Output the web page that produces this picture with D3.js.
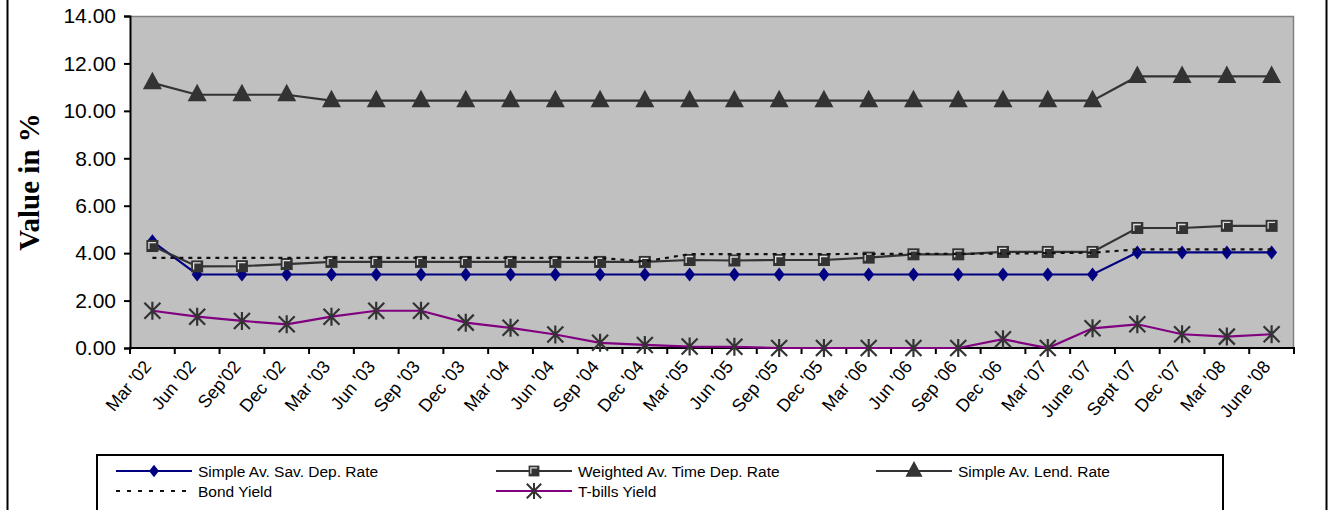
<!DOCTYPE html>
<html>
<head>
<meta charset="utf-8">
<script src="https://cdn.jsdelivr.net/npm/d3@7"></script>
<style>
  html, body { margin: 0; padding: 0; background: #fff; }
  svg { display: block; }
</style>
</head>
<body>
<svg id="chart" width="1328" height="510"></svg>
<script>
const categories = ["Mar '02","Jun '02","Sep'02","Dec '02","Mar '03","Jun '03","Sep '03","Dec '03",
  "Mar '04","Jun '04","Sep '04","Dec '04","Mar '05","Jun '05","Sep '05","Dec '05",
  "Mar '06","Jun '06","Sep '06","Dec '06","Mar '07","June '07","Sept '07","Dec '07","Mar '08","June '08"];

const savDep   = [4.50,3.10,3.10,3.10,3.10,3.10,3.10,3.10,3.10,3.10,3.10,3.10,3.10,3.10,3.10,3.10,3.10,3.10,3.10,3.10,3.10,3.10,4.03,4.03,4.03,4.03];
const timeDep  = [4.30,3.44,3.45,3.54,3.63,3.63,3.63,3.63,3.63,3.63,3.63,3.63,3.71,3.69,3.71,3.71,3.81,3.95,3.95,4.05,4.05,4.05,5.06,5.06,5.15,5.15];
const lendRate = [11.18,10.68,10.68,10.68,10.43,10.43,10.43,10.43,10.43,10.43,10.43,10.43,10.43,10.43,10.43,10.43,10.43,10.43,10.43,10.43,10.43,10.43,11.45,11.45,11.45,11.45];
const bondYield= [3.80,3.80,3.80,3.80,3.80,3.80,3.80,3.80,3.80,3.80,3.80,3.65,3.96,3.96,3.96,3.96,3.97,3.97,3.97,3.98,4.00,4.02,4.16,4.16,4.16,4.16];
const tbills   = [1.57,1.32,1.14,1.00,1.32,1.57,1.57,1.07,0.85,0.57,0.22,0.13,0.06,0.05,0.00,0.00,0.00,0.00,0.00,0.37,0.00,0.83,1.00,0.58,0.48,0.58];

const yTicks = [0,2,4,6,8,10,12,14];
const seriesNames = ["Simple Av. Sav. Dep. Rate","Weighted Av. Time Dep. Rate","Simple Av. Lend. Rate","Bond Yield","T-bills Yield"];

const svg = d3.select("#chart");
const plot = {left:130, right:1294, top:16, bottom:348};

// outer chart border
svg.append("rect").attr("x",7.5).attr("y",-2).attr("width",1319).attr("height",520)
  .attr("fill","#fff").attr("stroke","#000").attr("stroke-width",2);

const x = d3.scaleBand().domain(categories).range([plot.left, plot.right]).padding(0);
const y = d3.scaleLinear().domain([0,14]).range([plot.bottom, plot.top]);
const cx = c => x(c) + x.bandwidth()/2;

// plot area
svg.append("rect").attr("x",plot.left).attr("y",plot.top)
  .attr("width",plot.right-plot.left).attr("height",plot.bottom-plot.top)
  .attr("fill","#C0C0C0");
svg.append("path").attr("d",`M${plot.left},${plot.top+0.5}H${plot.right-0.5}V${plot.bottom}`)
  .attr("fill","none").attr("stroke","#808080").attr("stroke-width",1.5);

// Y axis
const yAxis = d3.axisLeft(y).tickValues(yTicks).tickFormat(d3.format(".2f")).tickSize(6).tickPadding(8);
const gy = svg.append("g").attr("transform",`translate(${plot.left},0)`).call(yAxis);
gy.select(".domain").attr("stroke","#000").attr("stroke-width",2);
gy.selectAll(".tick line").attr("stroke","#000").attr("stroke-width",2);
gy.selectAll(".tick text").attr("font-family","Liberation Sans, Arial, sans-serif")
  .attr("font-size",21).attr("fill","#000");

// X axis: ticks at band boundaries
const gx = svg.append("g").attr("transform",`translate(0,${plot.bottom})`);
gx.append("line").attr("x1",plot.left-1).attr("x2",plot.right+1).attr("stroke","#000").attr("stroke-width",2);
const bounds = categories.map(c => x(c)).concat([plot.right]);
gx.selectAll(".xt").data(bounds).join("line").attr("class","xt")
  .attr("x1",d=>d).attr("x2",d=>d).attr("y1",0).attr("y2",6)
  .attr("stroke","#000").attr("stroke-width",2);
gx.selectAll(".xl").data(categories).join("text").attr("class","xl")
  .attr("transform",d=>`translate(${cx(d)-5},${15}) rotate(-50)`)
  .attr("text-anchor","end").attr("dy","0.35em")
  .attr("font-family","Liberation Sans, Arial, sans-serif").attr("font-size",18)
  .text(d=>d);

// Y title
svg.append("text").attr("transform","translate(39,182) rotate(-90)")
  .attr("text-anchor","middle").attr("font-family","Liberation Serif, Times New Roman, serif")
  .attr("font-weight","bold").attr("font-size",29).text("Value in %");

// markers
function diamond(g, color){
  g.append("path").attr("d","M0,-7L5.5,0L0,7L-5.5,0Z").attr("fill",color);
}
function square(g){
  g.append("rect").attr("x",-6).attr("y",-6).attr("width",12).attr("height",12).attr("fill","#333");
  g.append("path").attr("d","M-3.5,3V-3.5H3.5").attr("fill","none").attr("stroke","#e0e0e0").attr("stroke-width",1.3);
}
function triangle(g){
  g.append("path").attr("d","M0,-11L9.5,6.5L-9.5,6.5Z").attr("fill","#333");
}
function asterisk(g){
  g.append("path").attr("d","M0,-9V9M-8,-8L8,8M-8,8L8,-8").attr("stroke","#333").attr("stroke-width",2.2).attr("fill","none");
}

const series = [
  {name:seriesNames[0], values:savDep,   color:"#000080", dash:null, marker:g=>diamond(g,"#000080")},
  {name:seriesNames[1], values:timeDep,  color:"#333333", dash:null, marker:square},
  {name:seriesNames[2], values:lendRate, color:"#333333", dash:null, marker:triangle},
  {name:seriesNames[3], values:bondYield,color:"#111111", dash:"4,5", marker:null},
  {name:seriesNames[4], values:tbills,   color:"#800080", dash:null, marker:asterisk}
];

const line = d3.line().x((d,i)=>cx(categories[i])).y(d=>y(d));
series.forEach(s=>{
  svg.append("path").datum(s.values).attr("d",line).attr("fill","none")
    .attr("stroke",s.color).attr("stroke-width",2.2)
    .attr("stroke-dasharray",s.dash);
  if (s.marker){
    s.values.forEach((v,i)=>{
      const g = svg.append("g").attr("transform",`translate(${cx(categories[i])},${y(v)})`);
      s.marker(g);
    });
  }
});

// legend
svg.append("rect").attr("x",97).attr("y",455).attr("width",1126).attr("height",70)
  .attr("fill","#fff").attr("stroke","#000").attr("stroke-width",2);
const legendPos = [
  {x:116,y:471},{x:496,y:471},{x:876,y:471},{x:116,y:491},{x:496,y:491}
];
series.forEach((s,i)=>{
  const p = legendPos[i];
  const g = svg.append("g").attr("transform",`translate(${p.x},${p.y})`);
  g.append("line").attr("x1",0).attr("x2",76).attr("stroke",s.color).attr("stroke-width",2)
    .attr("stroke-dasharray",s.dash ? "4,7" : null);
  if (s.marker){
    const m = g.append("g").attr("transform","translate(38,0) scale(0.9)");
    s.marker(m);
  }
  g.append("text").attr("x",82).attr("dy","0.36em")
    .attr("font-family","Liberation Sans, Arial, sans-serif").attr("font-size",15.5)
    .text(s.name);
});
</script>
</body>
</html>
